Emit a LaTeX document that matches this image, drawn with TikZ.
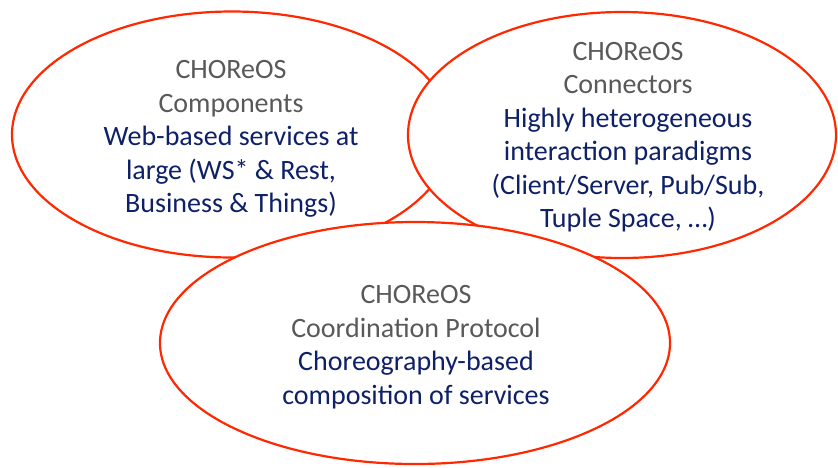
\documentclass[tikz,border=0pt]{standalone}
\usepackage{fontspec}
\setmainfont{Carlito}
\usetikzlibrary{shapes.geometric}
\definecolor{ringred}{RGB}{255,40,0}
\definecolor{txtgray}{RGB}{89,89,89}
\definecolor{txtblue}{RGB}{14,32,104}
\tikzset{
  ring/.style={ellipse, draw=ringred, fill=white, line width=2.2pt, inner sep=0pt},
  label/.style={align=center, inner sep=0pt, font=\fontsize{28}{33.5}\selectfont},
}
\newcommand{\gr}[1]{\textcolor{txtgray}{#1}}
\newcommand{\bl}[1]{\textcolor{txtblue}{#1}}
\begin{document}
\begin{tikzpicture}[x=1pt,y=-1pt]
\useasboundingbox (0,0) rectangle (838,467);
\fill[white] (0,0) rectangle (838,467);
\node[ring, minimum width=440pt, minimum height=246pt] (comp) at (232,134.5) {};
\node[ring, minimum width=428pt, minimum height=246pt] (conn) at (622,135) {};
\node[ring, minimum width=510pt, minimum height=242pt] (coord) at (415,343) {};
\node[label] (tcomp) at (231,139) {\gr{CHOReOS}\\\gr{Components}\\\bl{Web-based services at}\\\bl{large (WS* \& Rest,}\\\bl{Business \& Things)}};
\node[label] (tconn) at (628,137) {\gr{CHOReOS}\\\gr{Connectors}\\\bl{Highly heterogeneous}\\\bl{interaction paradigms}\\\bl{(Client/Server, Pub/Sub,}\\\bl{Tuple Space, …)}};
\node[label] (tcoord) at (416,347) {\gr{CHOReOS}\\\gr{Coordination Protocol}\\\bl{Choreography-based}\\\bl{composition of services}};
\end{tikzpicture}
\end{document}
